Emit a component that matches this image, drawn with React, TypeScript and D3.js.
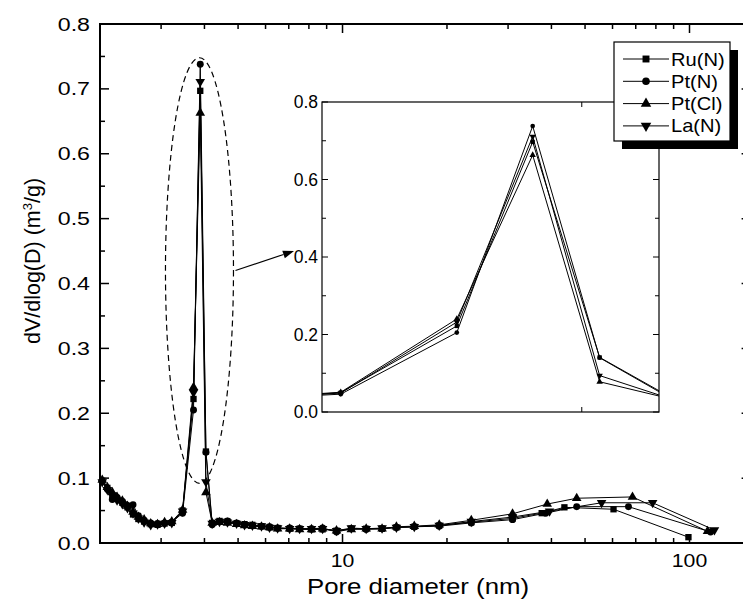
import * as d3 from "d3";
import { useEffect, useRef } from "react";

// pore sizes (nm) shared by all four samples up to ~31 nm
const poreCommon = [
  2.03, 2.1, 2.17, 2.24, 2.32, 2.4, 2.49, 2.58, 2.68, 2.8, 2.93, 3.07, 3.22,
  3.46, 3.72, 3.89, 4.04, 4.21, 4.42, 4.66, 4.95, 5.22, 5.5, 5.84, 6.16, 6.5,
  7.04, 7.52, 8.14, 8.76, 9.61, 10.6, 11.7, 13.0, 14.3, 16.1, 19.0, 23.5, 30.9,
];

const ruN = [
  0.096, 0.085, 0.072, 0.068, 0.062, 0.055, 0.044, 0.037, 0.033, 0.029, 0.028,
  0.03, 0.031, 0.05, 0.222, 0.697, 0.141, 0.031, 0.034, 0.033, 0.03, 0.029,
  0.028, 0.026, 0.024, 0.023, 0.022, 0.022, 0.021, 0.021, 0.019, 0.022, 0.022,
  0.022, 0.024, 0.025, 0.027, 0.032, 0.038,
];
const ptN = [
  0.095, 0.083, 0.067, 0.07, 0.064, 0.058, 0.059, 0.042, 0.035, 0.031, 0.03,
  0.031, 0.032, 0.046, 0.205, 0.738, 0.14, 0.028, 0.033, 0.034, 0.031, 0.028,
  0.027, 0.026, 0.025, 0.023, 0.023, 0.022, 0.022, 0.023, 0.017, 0.022, 0.021,
  0.022, 0.024, 0.025, 0.026, 0.031, 0.036,
];
const ptCl = [
  0.097, 0.086, 0.078, 0.071, 0.065, 0.057, 0.048, 0.04, 0.036, 0.03, 0.029,
  0.032, 0.033, 0.051, 0.24, 0.663, 0.078, 0.031, 0.032, 0.031, 0.029, 0.027,
  0.026, 0.025, 0.024, 0.022, 0.022, 0.021, 0.021, 0.022, 0.019, 0.021, 0.022,
  0.022, 0.025, 0.026, 0.028, 0.035, 0.045,
];
const laN = [
  0.094, 0.082, 0.074, 0.066, 0.06, 0.054, 0.046, 0.038, 0.032, 0.028, 0.029,
  0.03, 0.031, 0.049, 0.232, 0.711, 0.094, 0.03, 0.033, 0.032, 0.03, 0.028,
  0.027, 0.026, 0.024, 0.023, 0.022, 0.022, 0.022, 0.022, 0.019, 0.023, 0.022,
  0.023, 0.024, 0.025, 0.027, 0.033, 0.04,
];

// large-pore tails differ per sample
const ruTailPore = [37.5, 43.6, 60.4, 99.3];
const ruTail = [0.046, 0.055, 0.052, 0.009];
const ptNTailPore = [38.5, 47.3, 66.7, 115];
const ptNTail = [0.046, 0.056, 0.056, 0.017];
const ptClTailPore = [38.9, 47.3, 68.5, 112.7];
const ptClTail = [0.06, 0.069, 0.071, 0.018];
const laTailPore = [39.5, 55.8, 78.3, 118];
const laTail = [0.049, 0.062, 0.062, 0.02];

const seriesNames = ["Ru(N)", "Pt(N)", "Pt(Cl)", "La(N)"];
const yTicks = [0, 0.1, 0.2, 0.3, 0.4, 0.5, 0.6, 0.7, 0.8];
const xTickLabels = [10, 100];
const insetYTicks = [0, 0.2, 0.4, 0.6, 0.8];
const insetXTicks = [4.0];

const FONT = "'Liberation Sans', Arial, sans-serif";

const App = () => {
  const svgRef = useRef<SVGSVGElement>(null);

  useEffect(() => {
    const width = 743;
    const height = 606;
    const svg = d3.select(svgRef.current).attr("width", width).attr("height", height);
    svg.selectAll("*").remove();

    const margin = { top: 24, left: 100, right: 750.6, bottom: 543 };

    const x = d3.scaleLog().domain([2, 150]).range([margin.left, margin.right]);
    const y = d3.scaleLinear().domain([0, 0.8]).range([margin.bottom, margin.top]);

    const shapes = [
      { sym: d3.symbolSquare, size: 40, rot: 0 },
      { sym: d3.symbolCircle, size: 38, rot: 0 },
      { sym: d3.symbolTriangle, size: 40, rot: 0 },
      { sym: d3.symbolTriangle, size: 40, rot: 180 },
    ];
    const series = [
      { pore: poreCommon.concat(ruTailPore), dv: ruN.concat(ruTail) },
      { pore: poreCommon.concat(ptNTailPore), dv: ptN.concat(ptNTail) },
      { pore: poreCommon.concat(ptClTailPore), dv: ptCl.concat(ptClTail) },
      { pore: poreCommon.concat(laTailPore), dv: laN.concat(laTail) },
    ].map((s, i) => ({
      name: seriesNames[i],
      shape: shapes[i],
      pts: s.pore.map((p, j) => [p, s.dv[j]] as [number, number]),
    }));

    //////////
    // MAIN DATA //
    //////////
    const mainG = svg.append("g");
    const mainLine = d3
      .line<[number, number]>()
      .x((d) => x(d[0]))
      .y((d) => y(d[1]));

    series.forEach((s) => {
      mainG
        .append("path")
        .attr("d", mainLine(s.pts))
        .attr("fill", "none")
        .attr("stroke", "#000")
        .attr("stroke-width", 1);
    });
    series.forEach((s) => {
      mainG
        .selectAll(null)
        .data(s.pts)
        .join("path")
        .attr("d", d3.symbol(s.shape.sym, s.shape.size)())
        .attr(
          "transform",
          (d) => `translate(${x(d[0])},${y(d[1])}) rotate(${s.shape.rot})`
        )
        .attr("fill", "#000");
    });

    // dashed ellipse round the peak + arrow to the inset
    const peakNm = 3.87;
    const ellTop = y(0.748);
    const ellBottom = y(0.092);
    const ellCy = (ellTop + ellBottom) / 2;
    const ellRx = 34;
    svg
      .append("ellipse")
      .attr("cx", x(peakNm))
      .attr("cy", ellCy)
      .attr("rx", ellRx)
      .attr("ry", (ellBottom - ellTop) / 2)
      .attr("fill", "none")
      .attr("stroke", "#000")
      .attr("stroke-width", 1.2)
      .attr("stroke-dasharray", "6,4");

    const ax0 = x(peakNm) + ellRx + 2;
    const ay0 = ellCy;
    const ax1 = 294;
    const ay1 = 251;
    const ang = Math.atan2(ay1 - ay0, ax1 - ax0);
    const headL = 11;
    const headW = 4;
    svg
      .append("line")
      .attr("x1", ax0)
      .attr("y1", ay0)
      .attr("x2", ax1 - headL * Math.cos(ang))
      .attr("y2", ay1 - headL * Math.sin(ang))
      .attr("stroke", "#000")
      .attr("stroke-width", 1.2);
    const bx = ax1 - headL * Math.cos(ang);
    const by = ay1 - headL * Math.sin(ang);
    svg
      .append("path")
      .attr(
        "d",
        `M${ax1},${ay1}L${bx + headW * Math.sin(ang)},${by - headW * Math.cos(ang)}L${bx - headW * Math.sin(ang)},${by + headW * Math.cos(ang)}Z`
      )
      .attr("fill", "#000");

    //////////
    // INSET //
    //////////
    const inset = { left: 322, right: 659, top: 102, bottom: 412 };
    const xi = d3.scaleLinear().domain([3.418, 4.173]).range([inset.left, inset.right]);
    const yi = d3.scaleLinear().domain([0, 0.8]).range([inset.bottom, inset.top]);

    svg
      .append("rect")
      .attr("x", inset.left)
      .attr("y", inset.top)
      .attr("width", inset.right - inset.left)
      .attr("height", inset.bottom - inset.top)
      .attr("fill", "#fff");

    svg
      .append("clipPath")
      .attr("id", "insetClip")
      .append("rect")
      .attr("x", inset.left)
      .attr("y", inset.top)
      .attr("width", inset.right - inset.left)
      .attr("height", inset.bottom - inset.top);

    const insetG = svg.append("g").attr("clip-path", "url(#insetClip)");
    const insetLine = d3
      .line<[number, number]>()
      .x((d) => xi(d[0]))
      .y((d) => yi(d[1]));
    series.forEach((s) => {
      const near = s.pts.filter((d) => d[0] > 3 && d[0] < 4.5);
      insetG
        .append("path")
        .attr("d", insetLine(near))
        .attr("fill", "none")
        .attr("stroke", "#000")
        .attr("stroke-width", 1);
    });
    series.forEach((s) => {
      const near = s.pts.filter((d) => d[0] > 3 && d[0] < 4.5);
      insetG
        .selectAll(null)
        .data(near)
        .join("path")
        .attr("d", d3.symbol(s.shape.sym, s.shape.size * 0.45)())
        .attr(
          "transform",
          (d) => `translate(${xi(d[0])},${yi(d[1])}) rotate(${s.shape.rot})`
        )
        .attr("fill", "#000");
    });

    svg
      .append("rect")
      .attr("x", inset.left)
      .attr("y", inset.top)
      .attr("width", inset.right - inset.left)
      .attr("height", inset.bottom - inset.top)
      .attr("fill", "none")
      .attr("stroke", "#000")
      .attr("stroke-width", 1.2);

    const insetYMinor = d3.range(0, 0.81, 0.1);
    insetYMinor.forEach((v, i) => {
      const len = i % 2 === 0 ? 6 : 4;
      [
        [inset.left, inset.left + len],
        [inset.right, inset.right - len],
      ].forEach(([a, b]) => {
        svg
          .append("line")
          .attr("x1", a)
          .attr("x2", b)
          .attr("y1", yi(v))
          .attr("y2", yi(v))
          .attr("stroke", "#000")
          .attr("stroke-width", 1);
      });
    });
    insetXTicks.forEach((v) => {
      [
        [inset.bottom, inset.bottom - 5],
        [inset.top, inset.top + 5],
      ].forEach(([a, b]) => {
        svg
          .append("line")
          .attr("x1", xi(v))
          .attr("x2", xi(v))
          .attr("y1", a)
          .attr("y2", b)
          .attr("stroke", "#000")
          .attr("stroke-width", 1);
      });
    });
    svg
      .selectAll("insetYLabel")
      .data(insetYTicks)
      .enter()
      .append("text")
      .attr("x", inset.left - 4)
      .attr("y", (d) => yi(d) + 6)
      .attr("text-anchor", "end")
      .attr("font-family", FONT)
      .attr("font-size", 17.5)
      .text((d) => d3.format(".1f")(d));

    //////////
    // AXIS //
    //////////
    const axisG = svg.append("g").attr("stroke", "#000");
    axisG
      .append("rect")
      .attr("x", margin.left)
      .attr("y", margin.top)
      .attr("width", margin.right - margin.left)
      .attr("height", margin.bottom - margin.top)
      .attr("fill", "none")
      .attr("stroke-width", 2);

    const logTicks = x.ticks();
    logTicks.forEach((v) => {
      const major = xTickLabels.includes(v);
      const len = major ? 9 : 5;
      [
        [margin.bottom, margin.bottom - len],
        [margin.top, margin.top + len],
      ].forEach(([a, b]) => {
        axisG
          .append("line")
          .attr("x1", x(v))
          .attr("x2", x(v))
          .attr("y1", a)
          .attr("y2", b)
          .attr("stroke-width", 1.5);
      });
    });
    d3.range(0, 0.81, 0.05).forEach((v, i) => {
      const len = i % 2 === 0 ? 9 : 5;
      [
        [margin.left, margin.left + len],
        [margin.right, margin.right - len],
      ].forEach(([a, b]) => {
        axisG
          .append("line")
          .attr("x1", a)
          .attr("x2", b)
          .attr("y1", y(v))
          .attr("y2", y(v))
          .attr("stroke-width", 1.5);
      });
    });

    svg
      .selectAll("yLabel")
      .data(yTicks)
      .enter()
      .append("text")
      .attr("transform", (d) => `translate(90,${y(d) + 6.5}) scale(1.22,1)`)
      .attr("text-anchor", "end")
      .attr("font-family", FONT)
      .attr("font-size", 19)
      .text((d) => d3.format(".1f")(d));

    svg
      .selectAll("xLabel")
      .data(xTickLabels)
      .enter()
      .append("text")
      .attr("transform", (d) => `translate(${x(d)},567) scale(1.12,1)`)
      .attr("text-anchor", "middle")
      .attr("font-family", FONT)
      .attr("font-size", 19)
      .text((d) => d);

    svg
      .append("text")
      .attr("transform", "translate(418,594) scale(1.2,1)")
      .attr("text-anchor", "middle")
      .attr("font-family", FONT)
      .attr("font-size", 21.5)
      .text("Pore diameter (nm)");

    const yTitle = svg
      .append("text")
      .attr("transform", "translate(40,261) rotate(-90)")
      .attr("text-anchor", "middle")
      .attr("font-family", FONT)
      .attr("font-size", 21.5);
    yTitle.append("tspan").text("dV/dlog(D) (m");
    yTitle.append("tspan").attr("font-size", 13).attr("dy", -8).text("3");
    yTitle.append("tspan").attr("dy", 8).text("/g)");

    //////////
    // LEGEND //
    //////////
    const lg = { x: 614, y: 42, w: 116, h: 99, shadow: 8 };
    svg
      .append("rect")
      .attr("x", lg.x + lg.shadow)
      .attr("y", lg.y + lg.shadow)
      .attr("width", lg.w)
      .attr("height", lg.h)
      .attr("fill", "#000");
    svg
      .append("rect")
      .attr("x", lg.x)
      .attr("y", lg.y)
      .attr("width", lg.w)
      .attr("height", lg.h)
      .attr("fill", "#fff")
      .attr("stroke", "#000")
      .attr("stroke-width", 1.2);
    series.forEach((s, i) => {
      const cy = 59 + i * 22.3;
      svg
        .append("line")
        .attr("x1", 623)
        .attr("x2", 669)
        .attr("y1", cy)
        .attr("y2", cy)
        .attr("stroke", "#000")
        .attr("stroke-width", 1);
      svg
        .append("path")
        .attr("d", d3.symbol(s.shape.sym, s.shape.size * 1.2)())
        .attr("transform", `translate(646,${cy}) rotate(${s.shape.rot})`)
        .attr("fill", "#000");
      svg
        .append("text")
        .attr("transform", `translate(671,${cy + 6.5}) scale(1.15,1)`)
        .attr("font-family", FONT)
        .attr("font-size", 17.5)
        .text(s.name);
    });
  }, []);

  return (
    <svg
      ref={svgRef}
      style={{ position: "absolute", left: 0, top: 0, background: "#fff" }}
    ></svg>
  );
};

export default App;
